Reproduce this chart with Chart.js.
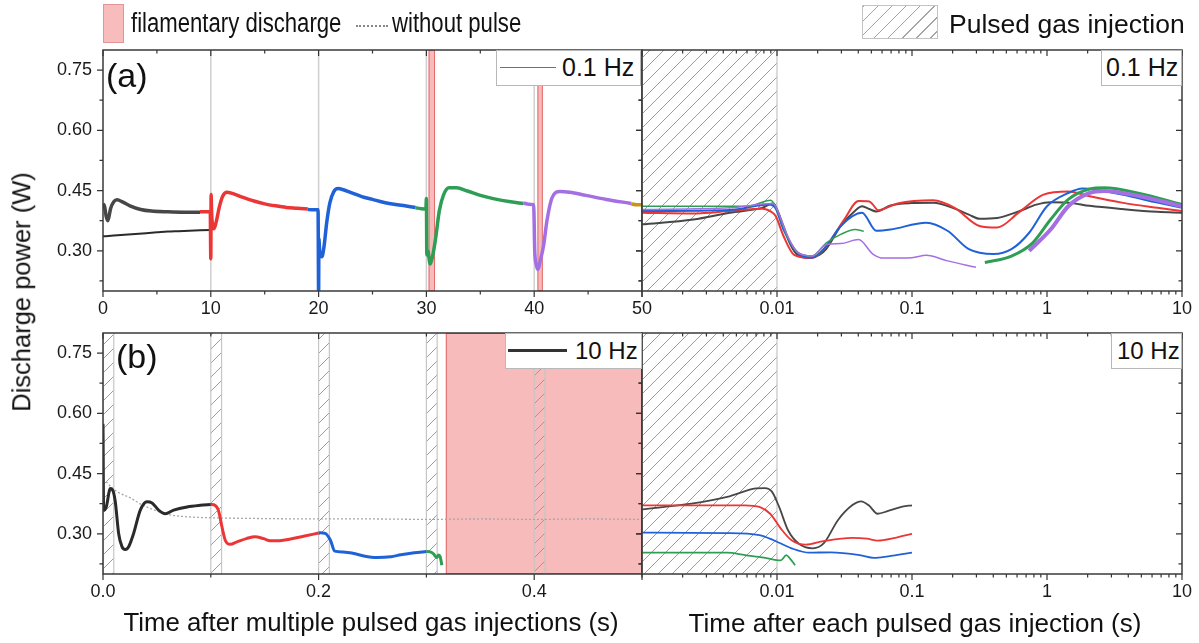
<!DOCTYPE html>
<html><head><meta charset="utf-8">
<script src="https://cdn.jsdelivr.net/npm/chart.js@4.4.1/dist/chart.umd.min.js"></script>
<style>
html,body{margin:0;padding:0;background:#fff}
body{width:1199px;height:643px;overflow:hidden;position:relative;font-family:'Liberation Sans',Arial,Helvetica,sans-serif;color:#111}
canvas{position:absolute;left:0;top:0}
.t{position:absolute;white-space:nowrap;line-height:1}
.box{position:absolute;background:#fff;border:1px solid #b8b8b8;box-sizing:border-box}
.narrow{transform:scaleX(0.82);transform-origin:0 0}
</style></head><body>
<canvas id="cTL" width="1199" height="643"></canvas>
<canvas id="cTR" width="1199" height="643"></canvas>
<canvas id="cBL" width="1199" height="643"></canvas>
<canvas id="cBR" width="1199" height="643"></canvas>

<!-- top legend row -->
<div style="position:absolute;left:103px;top:4px;width:21px;height:39px;background:#f8bcbc;border:1px solid #e39494;box-sizing:border-box"></div>
<div class="t narrow" style="left:131px;top:10px;font-size:27px">filamentary discharge</div>
<div style="position:absolute;left:356px;top:25px;width:32px;border-top:2px dotted #888"></div>
<div class="t narrow" style="left:392px;top:10px;font-size:27px">without pulse</div>
<div style="position:absolute;left:862px;top:5px;width:76px;height:34px;border:1px solid #c4c4c4;box-sizing:border-box;background:repeating-linear-gradient(135deg,#a4a4a4 0 1px,transparent 1px 10px)"></div>
<div class="t" style="left:949px;top:11px;font-size:26.5px">Pulsed gas injection</div>

<!-- panel legends -->
<div class="box" style="left:496px;top:50px;width:145px;height:36px"></div>
<div style="position:absolute;left:500px;top:67px;width:56px;border-top:1.5px solid #707070"></div>
<div class="t" style="left:562px;top:55px;font-size:25px">0.1 Hz</div>
<div class="box" style="left:1101px;top:50px;width:81px;height:36px"></div>
<div class="t" style="left:1106px;top:55px;font-size:25px">0.1 Hz</div>
<div class="box" style="left:505px;top:333px;width:137px;height:36px"></div>
<div style="position:absolute;left:508px;top:349px;width:59px;border-top:3px solid #333"></div>
<div class="t" style="left:575px;top:339px;font-size:24px">10 Hz</div>
<div class="box" style="left:1111px;top:333px;width:71px;height:36px"></div>
<div class="t" style="left:1117px;top:339px;font-size:24px">10 Hz</div>

<!-- panel tags -->
<div class="t" style="left:106px;top:58px;font-size:34px">(a)</div>
<div class="t" style="left:116px;top:339px;font-size:34px">(b)</div>

<!-- axis titles -->
<div class="t" style="left:371px;top:610px;font-size:25.8px;transform:translateX(-50%)">Time after multiple pulsed gas injections (s)</div>
<div class="t" style="left:915px;top:610px;font-size:26px;transform:translateX(-50%)">Time after each pulsed gas injection (s)</div>
<div class="t" style="left:22px;top:292px;font-size:25.5px;transform:translate(-50%,-50%) rotate(-90deg)">Discharge power (W)</div>

<script>
// ---------------- DATA ----------------
// Y axis (shared)
const yTickValues = [0.30, 0.45, 0.60, 0.75];
const yTickLabels = ['0.30', '0.45', '0.60', '0.75'];
const yMinorValues = [0.225, 0.375, 0.525, 0.675];

// X tick labels
const aLeftTickValues = [0, 10, 20, 30, 40, 50];
const aLeftTickLabels = ['0', '10', '20', '30', '40', '50'];
const aLeftMinor = [5, 15, 25, 35, 45];
const bLeftTickValues = [0, 0.2, 0.4];
const bLeftTickLabels = ['0.0', '0.2', '0.4'];
const bLeftMinor = [0.1, 0.3, 0.5];
const logTickValues = [0.01, 0.1, 1, 10];
const logTickLabels = ['0.01', '0.1', '1', '10'];

// Shaded spans
const aPinkSpans = [[30.2, 30.8], [40.3, 40.8]];
const aInjectionLines = [10, 20, 30, 40];
const bHatchSpans = [[0, 0.01], [0.1, 0.11], [0.2, 0.21], [0.3, 0.31], [0.4, 0.41]];
const bPinkSpans = [[0.318, 0.5]];
const logHatchSpans = [[0.001, 0.01]];

// Panel (a) left: 0.1 Hz, time after multiple injections (s) / power (W)
const aGrayT = [0, 0.15, 0.3, 0.45, 0.7, 1.0, 1.3, 1.8, 2.5, 3.5, 4.5, 6, 7.5, 9];
const aGrayP = [0.418, 0.41, 0.385, 0.375, 0.405, 0.422, 0.427, 0.422, 0.412, 0.403, 0.399, 0.397, 0.396, 0.396];
const aRedT = [9, 9.5, 9.95, 10.0, 10.03, 10.07, 10.15, 10.3, 10.5, 10.8, 11.1, 11.5, 12, 13, 14, 15, 16, 17, 18, 19];
const aRedP = [0.397, 0.397, 0.398, 0.28, 0.44, 0.40, 0.365, 0.355, 0.372, 0.41, 0.436, 0.446, 0.443, 0.433, 0.424, 0.417, 0.412, 0.408, 0.406, 0.404];
const aBlueT = [19, 19.5, 19.95, 20.0, 20.03, 20.1, 20.3, 20.5, 20.75, 21.05, 21.4, 21.8, 22.3, 23, 24, 25, 26, 27, 28, 29];
const aBlueP = [0.403, 0.402, 0.402, 0.19, 0.33, 0.30, 0.285, 0.31, 0.37, 0.42, 0.447, 0.455, 0.452, 0.445, 0.435, 0.428, 0.421, 0.416, 0.412, 0.408];
const aGreenT = [29, 29.5, 29.95, 30.0, 30.04, 30.12, 30.35, 30.6, 30.85, 31.2, 31.6, 32.1, 32.8, 33.8, 35, 36.2, 37.8, 39];
const aGreenP = [0.407, 0.405, 0.404, 0.43, 0.29, 0.30, 0.267, 0.29, 0.33, 0.40, 0.44, 0.457, 0.457, 0.449, 0.438, 0.43, 0.422, 0.418];
const aPurpleT = [39, 39.5, 39.95, 40.05, 40.2, 40.35, 40.6, 40.85, 41.2, 41.65, 42.4, 43.3, 44.8, 46.7, 49];
const aPurpleP = [0.419, 0.416, 0.415, 0.30, 0.265, 0.254, 0.28, 0.31, 0.378, 0.432, 0.448, 0.446, 0.438, 0.428, 0.418];
const aGoldT = [49, 49.5, 50];
const aGoldP = [0.417, 0.415, 0.415];
const aBaseT = [0, 0.5, 1, 2, 3, 4, 5, 6, 7, 8, 9, 10];
const aBaseP = [0.336, 0.337, 0.338, 0.340, 0.342, 0.344, 0.346, 0.348, 0.349, 0.350, 0.351, 0.352];

// Panel (a) right: 0.1 Hz, time after each injection (s, log) / power (W)
const arGrayT = [0.001, 0.0024, 0.00447, 0.00774, 0.00928, 0.0098, 0.0112, 0.0126, 0.0142, 0.0171, 0.0206, 0.0232, 0.0297, 0.0379, 0.0427, 0.0483, 0.0544, 0.0693, 0.0997, 0.1436, 0.2069, 0.2638, 0.3162, 0.4278, 0.6156, 0.8332, 1.063, 1.438, 2.072, 3.583, 6.57, 10];
const arGrayP = [0.366, 0.378, 0.395, 0.407, 0.418, 0.41, 0.36, 0.315, 0.29, 0.283, 0.29, 0.305, 0.362, 0.4, 0.411, 0.404, 0.398, 0.413, 0.419, 0.42, 0.405, 0.39, 0.38, 0.382, 0.398, 0.415, 0.421, 0.42, 0.412, 0.404, 0.397, 0.395];
const arRedT = [0.001, 0.0024, 0.00447, 0.00774, 0.00928, 0.0098, 0.01117, 0.01339, 0.01816, 0.02322, 0.03147, 0.0402, 0.0483, 0.0513, 0.0561, 0.0782, 0.1436, 0.2069, 0.3162, 0.4278, 0.6156, 0.9411, 1.438, 2.072, 3.583, 6.57, 10];
const arRedP = [0.395, 0.393, 0.399, 0.405, 0.395, 0.386, 0.337, 0.29, 0.282, 0.312, 0.378, 0.424, 0.423, 0.415, 0.401, 0.418, 0.426, 0.407, 0.362, 0.358, 0.395, 0.44, 0.448, 0.436, 0.42, 0.407, 0.399];
const arRedSpikeT = [10, 10];
const arRedSpikeP = [0.37, 0.225];
const arBlueT = [0.001, 0.00447, 0.00875, 0.0098, 0.01117, 0.0142, 0.01816, 0.02322, 0.02965, 0.04265, 0.0544, 0.0693, 0.1273, 0.1831, 0.2638, 0.4026, 0.5453, 0.7379, 1.0, 1.438, 1.834, 3.583, 6.57, 10];
const arBlueP = [0.399, 0.4015, 0.4155, 0.405, 0.353, 0.296, 0.283, 0.312, 0.362, 0.395, 0.35, 0.353, 0.37, 0.35, 0.304, 0.292, 0.304, 0.345, 0.411, 0.444, 0.455, 0.44, 0.42, 0.407];
const arGreenT = [0.001, 0.00606, 0.0090, 0.0095, 0.0098, 0.01184, 0.0142, 0.01816, 0.02322, 0.02965, 0.03786, 0.0439];
const arGreenP = [0.411, 0.411, 0.426, 0.418, 0.41, 0.337, 0.296, 0.287, 0.32, 0.341, 0.353, 0.349];
const arGreen2T = [0.3464, 0.5453, 0.7842, 1.063, 1.438, 2.072, 2.645, 4.853, 10];
const arGreen2P = [0.271, 0.287, 0.32, 0.378, 0.428, 0.454, 0.457, 0.443, 0.415];
const arPurpleT = [0.001, 0.00447, 0.00928, 0.0098, 0.01184, 0.0142, 0.01816, 0.02322, 0.02965, 0.0402, 0.0513, 0.0614, 0.0997, 0.1273, 0.1831, 0.2977];
const arPurpleP = [0.403, 0.407, 0.418, 0.41, 0.341, 0.296, 0.287, 0.316, 0.318, 0.328, 0.292, 0.282, 0.283, 0.289, 0.275, 0.259];
const arPurple2T = [0.7379, 1.063, 1.438, 2.072, 2.645, 4.853, 10];
const arPurple2P = [0.3, 0.353, 0.411, 0.444, 0.449, 0.436, 0.411];

// Panel (b) left: 10 Hz, time after multiple injections (s) / power (W)
const bBlackT = [0, 0.0006, 0.003, 0.0068, 0.009, 0.0114, 0.0145, 0.0176, 0.0207, 0.0238, 0.0284, 0.0346, 0.0408, 0.0455, 0.0516, 0.0578, 0.0655, 0.078, 0.0902, 0.1];
const bBlackP = [0.574, 0.359, 0.367, 0.413, 0.409, 0.38, 0.301, 0.268, 0.261, 0.268, 0.301, 0.359, 0.38, 0.377, 0.359, 0.35, 0.359, 0.367, 0.371, 0.373];
const bRedT = [0.1, 0.104, 0.107, 0.1104, 0.1134, 0.118, 0.1243, 0.133, 0.141, 0.149, 0.155, 0.164, 0.174, 0.186, 0.2];
const bRedP = [0.373, 0.371, 0.359, 0.317, 0.284, 0.274, 0.28, 0.288, 0.293, 0.288, 0.283, 0.283, 0.287, 0.294, 0.302];
const bBlueT = [0.2, 0.206, 0.211, 0.215, 0.223, 0.233, 0.242, 0.254, 0.267, 0.2763, 0.2887, 0.3];
const bBlueP = [0.303, 0.301, 0.284, 0.257, 0.255, 0.251, 0.245, 0.241, 0.243, 0.248, 0.253, 0.256];
const bGreenT = [0.3, 0.3035, 0.3066, 0.3097, 0.3112, 0.3128, 0.3143];
const bGreenP = [0.256, 0.255, 0.25, 0.241, 0.247, 0.243, 0.222];
const bNoPulseT = [0.003, 0.008, 0.015, 0.025, 0.035, 0.045, 0.055, 0.065, 0.08, 0.1, 0.15, 0.2, 0.25, 0.3, 0.35, 0.4, 0.45, 0.5];
const bNoPulseP = [0.43, 0.415, 0.402, 0.39, 0.374, 0.362, 0.352, 0.346, 0.342, 0.34, 0.338, 0.337, 0.337, 0.336, 0.337, 0.336, 0.337, 0.336];

// Panel (b) right: 10 Hz, time after each injection (s, log) / power (W)
const brBlackT = [0.001, 0.00232, 0.00428, 0.00697, 0.00812, 0.00917, 0.01037, 0.01207, 0.01445, 0.01842, 0.02216, 0.02825, 0.036, 0.042, 0.0478, 0.0556, 0.0666, 0.0849, 0.1];
const brBlackP = [0.361, 0.375, 0.392, 0.413, 0.414, 0.405, 0.367, 0.309, 0.276, 0.264, 0.276, 0.334, 0.371, 0.381, 0.371, 0.35, 0.357, 0.368, 0.371];
const brRedT = [0.001, 0.0058, 0.00741, 0.0089, 0.01068, 0.01282, 0.01634, 0.02216, 0.036, 0.0464, 0.0556, 0.0752, 0.1];
const brRedP = [0.371, 0.371, 0.367, 0.35, 0.313, 0.284, 0.273, 0.282, 0.29, 0.288, 0.283, 0.29, 0.3];
const brBlueT = [0.001, 0.00428, 0.00741, 0.00945, 0.01282, 0.01735, 0.02502, 0.041, 0.0523, 0.0666, 0.1];
const brBlueP = [0.303, 0.302, 0.297, 0.284, 0.264, 0.253, 0.254, 0.247, 0.24, 0.244, 0.253];
const brGreenT = [0.001, 0.00428, 0.0058, 0.0080, 0.01068, 0.01172, 0.01244, 0.01361];
const brGreenP = [0.253, 0.253, 0.247, 0.241, 0.234, 0.247, 0.239, 0.222];

// ---------------- STYLE ----------------
const C = {gray: '#474747', black: '#2a2a2a', red: '#ec3535', blue: '#1f62d8', green: '#2f9e55', purple: '#a46fe3', gold: '#c99318', nopulse: '#a8a8a8'};
const FONT = "'Liberation Sans', Arial, Helvetica, sans-serif";
Chart.defaults.font.family = FONT;

const pts = (xs, ys) => xs.map((x, i) => ({x, y: ys[i]}));
function line(xs, ys, color, width, order, extra) {
  return Object.assign({data: pts(xs, ys), borderColor: color, backgroundColor: color, borderWidth: width,
    pointRadius: 0, fill: false, cubicInterpolationMode: 'monotone', order}, extra || {});
}

function hatchPattern(ctx) {
  const c = document.createElement('canvas'); c.width = 14; c.height = 14;
  const g = c.getContext('2d');
  g.strokeStyle = '#9c9c9c'; g.lineWidth = 1;
  g.beginPath();
  g.moveTo(-2, 16); g.lineTo(16, -2);
  g.moveTo(-9, 9); g.lineTo(9, -9);
  g.moveTo(5, 23); g.lineTo(23, 5);
  g.stroke();
  return ctx.createPattern(c, 'repeat');
}

const panelDecor = {
  id: 'panelDecor',
  beforeDatasetsDraw(chart, args, o) {
    const {ctx, chartArea: a} = chart; const x = chart.scales.x;
    const h = a.bottom - a.top;
    ctx.save();
    ctx.beginPath(); ctx.rect(a.left, a.top, a.right - a.left, h); ctx.clip();
    (o.pink || []).forEach(([s, e]) => {
      const x0 = x.getPixelForValue(s), x1 = x.getPixelForValue(e);
      ctx.fillStyle = 'rgba(240,120,120,0.5)';
      ctx.fillRect(x0, a.top, x1 - x0, h);
      ctx.strokeStyle = 'rgba(222,92,92,0.85)'; ctx.lineWidth = 1;
      ctx.strokeRect(x0 + 0.5, a.top + 0.5, x1 - x0 - 1, h - 1);
    });
    (o.lines || []).forEach(v => {
      const p = x.getPixelForValue(v);
      ctx.strokeStyle = '#cfcfcf'; ctx.lineWidth = 1.5;
      ctx.beginPath(); ctx.moveTo(p, a.top); ctx.lineTo(p, a.bottom); ctx.stroke();
    });
    if (o.hatch) {
      const pat = hatchPattern(ctx);
      o.hatch.forEach(([s, e]) => {
        const x0 = x.getPixelForValue(s), x1 = x.getPixelForValue(e);
        ctx.fillStyle = pat; ctx.fillRect(x0, a.top, x1 - x0, h);
        ctx.strokeStyle = '#c6c6c6'; ctx.lineWidth = 1.2;
        ctx.beginPath(); ctx.moveTo(x0, a.top); ctx.lineTo(x0, a.bottom); ctx.moveTo(x1, a.top); ctx.lineTo(x1, a.bottom); ctx.stroke();
      });
    }
    ctx.restore();
  },
  afterDraw(chart, args, o) {
    const {ctx, chartArea: a} = chart; const x = chart.scales.x, y = chart.scales.y;
    ctx.save();
    ctx.strokeStyle = '#333'; ctx.lineWidth = 1.2;
    ctx.beginPath();
    const seg = (x0, y0, x1, y1) => { ctx.moveTo(x0, y0); ctx.lineTo(x1, y1); };
    [[o.xMajor, 6], [o.xMinor, 3.5]].forEach(([vals, len]) => vals.forEach(v => {
      const p = x.getPixelForValue(v); seg(p, a.bottom, p, a.bottom + len); seg(p, a.top, p, a.top + len);
    }));
    [[o.yMajor, 6], [o.yMinor, 3.5]].forEach(([vals, len]) => vals.forEach(v => {
      const p = y.getPixelForValue(v); seg(a.left, p, a.left - len, p); seg(a.right, p, a.right - len, p);
    }));
    ctx.stroke();
    ctx.lineWidth = 1.5; ctx.strokeStyle = '#3a3a3a';
    ctx.strokeRect(a.left, a.top, a.right - a.left, a.bottom - a.top);
    ctx.restore();
  }
};

const logMinor = [];
[0.001, 0.01, 0.1, 1].forEach(d => { for (let k = 2; k <= 9; k++) logMinor.push(+(d * k).toPrecision(3)); });

function panel(id, o) {
  return new Chart(document.getElementById(id), {
    type: 'line',
    data: {datasets: o.datasets},
    options: {
      responsive: false, animation: false, devicePixelRatio: 1, events: [],
      layout: {padding: o.pad},
      plugins: {legend: {display: false}, tooltip: {enabled: false}, panelDecor: o.decor},
      scales: {
        x: {
          type: o.xType, min: o.xMin, max: o.xMax, position: 'bottom',
          grid: {display: false, drawTicks: false}, border: {display: false},
          ticks: {autoSkip: false, maxRotation: 0, padding: 7, color: '#1a1a1a', font: {size: 18},
                  callback: (v, i) => o.xLabels[i]},
          afterBuildTicks: s => { s.ticks = o.xTicks.map(v => ({value: v})); },
          afterFit: s => { s.height = 30; s.paddingLeft = 0; s.paddingRight = 0; }
        },
        y: {
          type: 'linear', min: 0.2, max: 0.8, display: o.yShow,
          grid: {display: false, drawTicks: false}, border: {display: false},
          ticks: {padding: 11, color: '#1a1a1a', font: {size: 18}, callback: (v, i) => yTickLabels[i]},
          afterBuildTicks: s => { s.ticks = yTickValues.map(v => ({value: v})); },
          afterFit: s => { s.width = o.yShow ? 60 : 0; s.paddingTop = 0; s.paddingBottom = 0; }
        }
      }
    },
    plugins: [panelDecor]
  });
}

// Plot rectangles: TL x 103-642 y 50-291; TR x 642-1182; BL/BR y 333-574
panel('cTL', {
  pad: {left: 43, top: 50, right: 557, bottom: 322}, xType: 'linear', xMin: 0, xMax: 50,
  xTicks: aLeftTickValues, xLabels: aLeftTickLabels, yShow: true,
  decor: {pink: aPinkSpans, lines: aInjectionLines, xMajor: aLeftTickValues, xMinor: aLeftMinor, yMajor: yTickValues, yMinor: yMinorValues},
  datasets: [
    line(aBaseT, aBaseP, C.black, 2, 7),
    line(aGrayT, aGrayP, C.gray, 3.5, 6),
    line(aRedT, aRedP, C.red, 3.5, 5),
    line(aBlueT, aBlueP, C.blue, 3.5, 4),
    line(aGreenT, aGreenP, C.green, 3.5, 3),
    line(aPurpleT, aPurpleP, C.purple, 3.5, 2),
    line(aGoldT, aGoldP, C.gold, 3.5, 1)
  ]
});

panel('cTR', {
  pad: {left: 642, top: 50, right: 17, bottom: 322}, xType: 'logarithmic', xMin: 0.001, xMax: 10,
  xTicks: logTickValues, xLabels: logTickLabels, yShow: false,
  decor: {hatch: logHatchSpans, xMajor: [0.001].concat(logTickValues), xMinor: logMinor, yMajor: yTickValues, yMinor: yMinorValues},
  datasets: [
    line(arGrayT, arGrayP, C.gray, 2, 6),
    line(arRedT, arRedP, C.red, 2, 5),
    line(arRedSpikeT, arRedSpikeP, C.red, 1.2, 5, {cubicInterpolationMode: 'default', tension: 0}),
    line(arBlueT, arBlueP, C.blue, 2, 4),
    line(arGreenT, arGreenP, C.green, 1.5, 3),
    line(arGreen2T, arGreen2P, C.green, 3, 3),
    line(arPurpleT, arPurpleP, C.purple, 1.5, 2),
    line(arPurple2T, arPurple2P, C.purple, 4, 1)
  ]
});

panel('cBL', {
  pad: {left: 43, top: 333, right: 557, bottom: 39}, xType: 'linear', xMin: 0, xMax: 0.5,
  xTicks: bLeftTickValues, xLabels: bLeftTickLabels, yShow: true,
  decor: {pink: bPinkSpans, hatch: bHatchSpans, xMajor: bLeftTickValues, xMinor: bLeftMinor, yMajor: yTickValues, yMinor: yMinorValues},
  datasets: [
    line(bNoPulseT, bNoPulseP, C.nopulse, 1.3, 6, {borderDash: [2, 2]}),
    line(bBlackT, bBlackP, C.black, 3, 5),
    line(bRedT, bRedP, C.red, 3, 4),
    line(bBlueT, bBlueP, C.blue, 3, 3),
    line(bGreenT, bGreenP, C.green, 3, 2)
  ]
});

panel('cBR', {
  pad: {left: 642, top: 333, right: 17, bottom: 39}, xType: 'logarithmic', xMin: 0.001, xMax: 10,
  xTicks: logTickValues, xLabels: logTickLabels, yShow: false,
  decor: {hatch: logHatchSpans, xMajor: [0.001].concat(logTickValues), xMinor: logMinor, yMajor: yTickValues, yMinor: yMinorValues},
  datasets: [
    line(brBlackT, brBlackP, C.gray, 1.8, 4),
    line(brRedT, brRedP, C.red, 1.8, 3),
    line(brBlueT, brBlueP, C.blue, 1.8, 2),
    line(brGreenT, brGreenP, C.green, 1.8, 1)
  ]
});
</script>
</body></html>
